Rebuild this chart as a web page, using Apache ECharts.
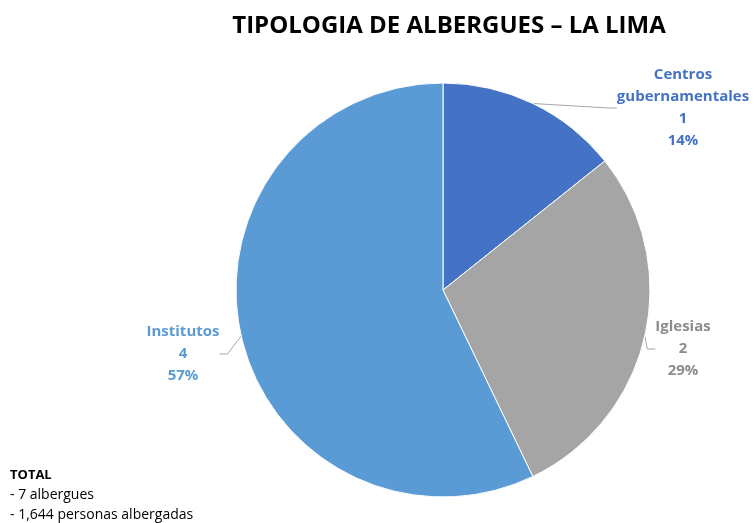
<!DOCTYPE html>
<html>
<head>
<meta charset="utf-8">
<script src="https://cdn.jsdelivr.net/npm/echarts@6/dist/echarts.min.js"></script>
<style>
  html, body { margin: 0; padding: 0; background: #fff; }
  #chart { width: 754px; height: 523px; }
</style>
</head>
<body>
<div id="chart"></div>
<script>
// datos
const categorias = ['Centros\ngubernamentales', 'Iglesias', 'Institutos']
const albergues = [1, 2, 4]
const colores = ['#4472C4', '#A5A5A5', '#5B9BD5']
const coloresTexto = ['#4472C4', '#8C8C8C', '#5B9BD5']
const totalLineas = ['- 7 albergues', '- 1,644 personas albergadas']

// posición de cada etiqueta (centro del bloque de texto)
const posEtiquetas = [[683, 108], [683, 349], [183, 354]]

const chart = echarts.init(document.getElementById('chart'))
chart.setOption({
  title: {
    text: 'TIPOLOGIA DE ALBERGUES – LA LIMA',
    left: 444,
    textAlign: 'center',
    top: 9,
    textStyle: {
      fontFamily: 'Open Sans',
      fontWeight: 'bold',
      fontSize: 24,
      color: '#000'
    }
  },
  graphic: [
    {
      type: 'text',
      left: 10,
      top: 465,
      style: {
        text: '{b|TOTAL}\n' + totalLineas.join('\n'),
        fontFamily: 'Open Sans',
        fontSize: 14,
        lineHeight: 20,
        fill: '#000',
        rich: {
          b: { fontWeight: 'bold', fontSize: 13, fontFamily: 'Open Sans' }
        }
      }
    }
  ],
  series: [
    {
      type: 'pie',
      center: [443, 290],
      radius: 207,
      startAngle: 90,
      clockwise: true,
      animation: false,
      itemStyle: { borderColor: '#fff', borderWidth: 1 },
      label: {
        show: true,
        formatter: p => p.name + '\n' + p.value + '\n' + Math.round(p.percent) + '%',
        fontFamily: 'Open Sans',
        fontWeight: 'bold',
        fontSize: 15,
        lineHeight: 22,
        align: 'center'
      },
      labelLine: {
        show: true,
        length: 6,
        length2: 8,
        lineStyle: { color: '#A6A6A6', width: 1 }
      },
      labelLayout: p => ({
        x: posEtiquetas[p.dataIndex][0],
        y: posEtiquetas[p.dataIndex][1],
        align: 'center',
        verticalAlign: 'middle'
      }),
      data: categorias.map((c, i) => ({
        name: c,
        value: albergues[i],
        itemStyle: { color: colores[i] },
        label: { color: coloresTexto[i] }
      }))
    }
  ]
})
</script>
</body>
</html>
